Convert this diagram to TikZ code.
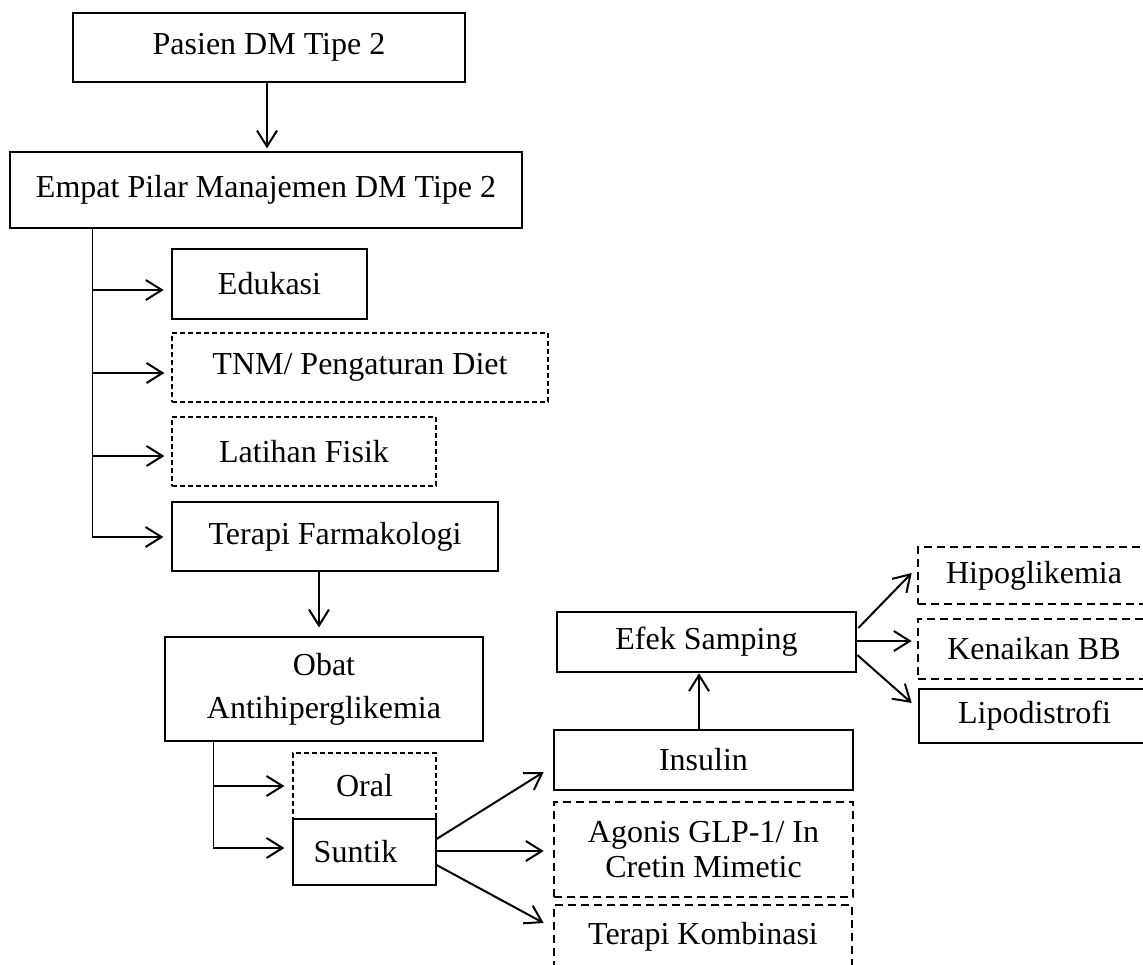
\documentclass[tikz,border=0pt]{standalone}
\usepackage{fontspec}
\setmainfont{Liberation Serif}
\usetikzlibrary{arrows.meta,calc}
\begin{document}
\begin{tikzpicture}[x=1pt,y=-1pt,
  every node/.style={font=\fontsize{32}{43}\selectfont},
  bx/.style={draw, rectangle, inner sep=0pt, line width=1.2pt},
  bxk/.style={draw, rectangle, inner sep=0pt, line width=2.6pt},
  thind/.style={dash pattern=on 5pt off 3pt},
  thickd/.style={dash pattern=on 8pt off 5pt},
  arr/.style={line width=2pt, -{Straight Barb[length=16pt,width=20pt,line width=2pt]}},
  ln/.style={line width=1.4pt},
  sz/.style 2 args={minimum width=#1pt, minimum height=#2pt}]
\useasboundingbox (0,0) rectangle (1143,964);
\clip (0,0) rectangle (1143,964);

% nodes
\node[bx, sz={392}{69}] (A) at (269,47.5) {Pasien DM Tipe 2};
\node[bx, sz={512}{76}] (B) at (266,190) {Empat Pilar Manajemen DM Tipe 2};
\node[bxk, sz={195}{70}] (Edu) at (269.5,284) {Edukasi};
\node[bx, thind, sz={376}{69}] (TNM) at (360,367.5) {TNM/ Pengaturan Diet};
\node[bx, thind, sz={264}{69}] (Lat) at (304,451.5) {Latihan Fisik};
\node[bx, sz={326}{69}] (Ter) at (335,536.5) {Terapi Farmakologi};
\node[bx, sz={318}{104}, align=center] (Obat) at (324,689) {Obat\\Antihiperglikemia};
\node[bx, thind, sz={143}{66}] (Oral) at (364.5,786) {Oral};
\node[bx, sz={143}{66}] (Sun) at (364.5,852) {Suntik\kern18pt};
\node[bxk, sz={299}{60}] (Ins) at (703.5,760) {Insulin};
\node[bxk, thickd, sz={299}{95}, align=center, font=\fontsize{32}{35}\selectfont] (Ago) at (703.5,849.5) {Agonis GLP-1/ In\\Cretin Mimetic};
\node[bxk, thickd, sz={298}{63}] (Kom) at (703,936.5) {Terapi Kombinasi};
\node[bxk, sz={299}{60}] (Efek) at (706.5,642) {Efek Samping};
\node[bxk, thickd, sz={232}{57}] (Hipo) at (1034,575.5) {Hipoglikemia};
\node[bxk, thickd, sz={232}{60}] (Ken) at (1034,649) {Kenaikan BB};
\node[bxk, sz={231}{54}] (Lipo) at (1034.5,716) {\raisebox{-5pt}{Lipodistrofi}};

% A -> B
\coordinate (bin) at ($(B.north)+(1,-3)$);
\draw[arr] (A.south -| bin) -- (bin);

% trunk from B
\coordinate (t1) at ($(B.south west)+(83,0)$);
\coordinate (eduin) at ($(Edu.west)+(-7,6)$);
\coordinate (tnmin) at ($(TNM.west)+(-7,5.5)$);
\coordinate (latin) at ($(Lat.west)+(-7,4.5)$);
\coordinate (terin) at ($(Ter.west)+(-8,0.5)$);
\draw[ln] (t1) -- (t1 |- terin);
\draw[arr] (t1 |- eduin) -- (eduin);
\draw[arr] (t1 |- tnmin) -- (tnmin);
\draw[arr] (t1 |- latin) -- (latin);
\draw[arr] (t1 |- terin) -- (terin);

% Ter -> Obat
\coordinate (obin) at ($(Obat.north)+(-5,-9)$);
\draw[arr] (Ter.south -| obin) -- (obin);

% trunk from Obat
\coordinate (t2) at ($(Obat.south west)+(49,0)$);
\coordinate (oralin) at ($(Oral.west)+(-8,0)$);
\coordinate (sunin) at ($(Sun.west)+(-8,-4)$);
\draw[ln] (t2) -- (t2 |- sunin);
\draw[arr] (t2 |- oralin) -- (oralin);
\draw[arr] (t2 |- sunin) -- (sunin);

% Suntik -> three
\draw[arr] ($(Sun.east)+(0,-13)$) -- ($(Ins.west)+(-9,12)$);
\draw[arr] ($(Sun.east)+(0,-1)$) -- ($(Ago.west)+(-9,1.5)$);
\draw[arr] ($(Sun.east)+(0,13)$) -- ($(Kom.west)+(-9,-13.5)$);

% Insulin -> Efek
\coordinate (insout) at ($(Ins.north)+(-4.5,0)$);
\draw[arr] (insout) -- (insout |- Efek.south);

% Efek -> three
\draw[arr] ($(Efek.east)+(1,-14)$) -- ($(Hipo.west)+(-5,-2.5)$);
\draw[arr] ($(Efek.east)+(0,-1)$) -- ($(Ken.west)+(-5,-8)$);
\draw[arr] ($(Efek.east)+(0,13)$) -- ($(Lipo.west)+(-6,-13)$);
\end{tikzpicture}
\end{document}
